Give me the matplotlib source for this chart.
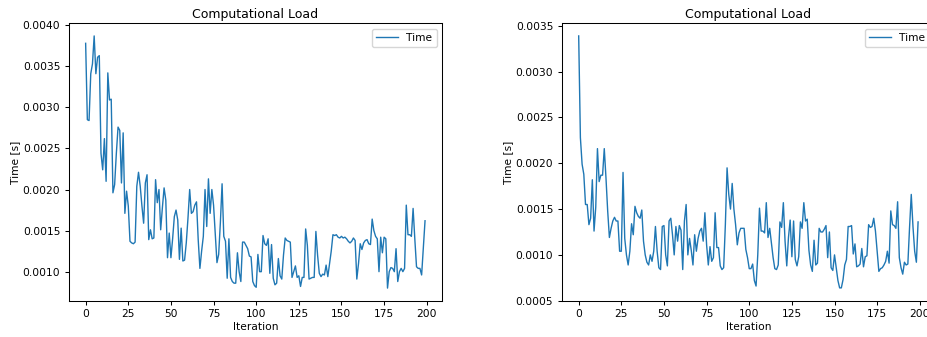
import numpy as np
import matplotlib
matplotlib.use("Agg")
import matplotlib.pyplot as plt

# Per-iteration solve time [s], first run
time_run_a = [
    0.00378, 0.00285, 0.00284, 0.00341, 0.00353, 0.00387, 0.00341, 0.00361, 0.00363, 0.00244,
    0.00224, 0.00262, 0.00210, 0.00342, 0.00309, 0.00310, 0.00196, 0.00206, 0.00244, 0.00276,
    0.00272, 0.00208, 0.00269, 0.00171, 0.00198, 0.00180, 0.00137, 0.00135, 0.00134, 0.00136,
    0.00204, 0.00221, 0.00204, 0.00180, 0.00159, 0.00208, 0.00218, 0.00139, 0.00151, 0.00140,
    0.00141, 0.00212, 0.00184, 0.00200, 0.00151, 0.00178, 0.00202, 0.00187, 0.00117, 0.00147,
    0.00117, 0.00140, 0.00167, 0.00175, 0.00163, 0.00115, 0.00153, 0.00113, 0.00114, 0.00135,
    0.00165, 0.00200, 0.00171, 0.00173, 0.00181, 0.00185, 0.00139, 0.00104, 0.00125, 0.00143,
    0.00200, 0.00155, 0.00213, 0.00171, 0.00200, 0.00181, 0.00147, 0.00111, 0.00121, 0.00160,
    0.00207, 0.00143, 0.00137, 0.00092, 0.00140, 0.00093, 0.00088, 0.00086, 0.00086, 0.00123,
    0.00100, 0.00088, 0.00136, 0.00136, 0.00132, 0.00128, 0.00119, 0.00118, 0.00088, 0.00083,
    0.00081, 0.00121, 0.00100, 0.00100, 0.00144, 0.00134, 0.00132, 0.00140, 0.00098, 0.00133,
    0.00092, 0.00084, 0.00086, 0.00116, 0.00095, 0.00091, 0.00120, 0.00141, 0.00138, 0.00137,
    0.00136, 0.00093, 0.00100, 0.00107, 0.00093, 0.00095, 0.00082, 0.00093, 0.00093, 0.00152,
    0.00132, 0.00091, 0.00092, 0.00093, 0.00093, 0.00149, 0.00120, 0.00098, 0.00094, 0.00097,
    0.00096, 0.00108, 0.00094, 0.00110, 0.00125, 0.00145, 0.00144, 0.00145, 0.00142, 0.00141,
    0.00143, 0.00141, 0.00142, 0.00140, 0.00137, 0.00135, 0.00137, 0.00141, 0.00138, 0.00091,
    0.00110, 0.00134, 0.00127, 0.00135, 0.00138, 0.00139, 0.00134, 0.00133, 0.00164, 0.00150,
    0.00143, 0.00140, 0.00100, 0.00142, 0.00123, 0.00142, 0.00140, 0.00080, 0.00100, 0.00105,
    0.00104, 0.00100, 0.00128, 0.00088, 0.00100, 0.00104, 0.00100, 0.00104, 0.00181, 0.00145,
    0.00145, 0.00143, 0.00177, 0.00140, 0.00106, 0.00104, 0.00104, 0.00096, 0.00130, 0.00162,
]

# Per-iteration solve time [s], second run
time_run_b = [
    0.00339, 0.00228, 0.00199, 0.00188, 0.00155, 0.00155, 0.00133, 0.00140, 0.00182, 0.00126,
    0.00152, 0.00216, 0.00180, 0.00187, 0.00187, 0.00216, 0.00184, 0.00148, 0.00119, 0.00129,
    0.00137, 0.00141, 0.00137, 0.00137, 0.00104, 0.00104, 0.00190, 0.00118, 0.00100, 0.00089,
    0.00104, 0.00134, 0.00122, 0.00153, 0.00146, 0.00142, 0.00140, 0.00149, 0.00115, 0.00100,
    0.00092, 0.00089, 0.00100, 0.00093, 0.00104, 0.00131, 0.00104, 0.00086, 0.00084, 0.00131,
    0.00132, 0.00100, 0.00088, 0.00137, 0.00140, 0.00122, 0.00100, 0.00131, 0.00115, 0.00132,
    0.00127, 0.00084, 0.00137, 0.00155, 0.00100, 0.00118, 0.00105, 0.00089, 0.00122, 0.00104,
    0.00118, 0.00126, 0.00129, 0.00115, 0.00146, 0.00111, 0.00089, 0.00109, 0.00093, 0.00097,
    0.00146, 0.00108, 0.00108, 0.00088, 0.00084, 0.00086, 0.00133, 0.00195, 0.00166, 0.00150,
    0.00178, 0.00150, 0.00133, 0.00111, 0.00124, 0.00129, 0.00129, 0.00129, 0.00106, 0.00097,
    0.00085, 0.00085, 0.00090, 0.00072, 0.00066, 0.00100, 0.00151, 0.00126, 0.00126, 0.00124,
    0.00157, 0.00119, 0.00129, 0.00113, 0.00097, 0.00085, 0.00084, 0.00089, 0.00136, 0.00130,
    0.00157, 0.00115, 0.00088, 0.00119, 0.00138, 0.00098, 0.00137, 0.00095, 0.00088, 0.00098,
    0.00136, 0.00129, 0.00157, 0.00137, 0.00139, 0.00105, 0.00089, 0.00082, 0.00116, 0.00089,
    0.00091, 0.00129, 0.00125, 0.00125, 0.00128, 0.00132, 0.00097, 0.00125, 0.00086, 0.00083,
    0.00100, 0.00086, 0.00072, 0.00064, 0.00064, 0.00073, 0.00089, 0.00095, 0.00131, 0.00131,
    0.00132, 0.00101, 0.00112, 0.00087, 0.00088, 0.00090, 0.00107, 0.00087, 0.00098, 0.00099,
    0.00133, 0.00130, 0.00131, 0.00140, 0.00126, 0.00104, 0.00082, 0.00085, 0.00086, 0.00089,
    0.00093, 0.00104, 0.00091, 0.00148, 0.00133, 0.00132, 0.00129, 0.00158, 0.00097, 0.00086,
    0.00079, 0.00092, 0.00089, 0.00090, 0.00130, 0.00166, 0.00131, 0.00104, 0.00092, 0.00136,
]

title_text = "Computational Load"
x_label = "Iteration"
y_label = "Time [s]"
series_label = "Time"

plt.rcParams["font.family"] = "DejaVu Sans"
plt.rcParams["font.size"] = 7.7
plt.rcParams["axes.linewidth"] = 0.75
plt.rcParams["xtick.major.width"] = 0.75
plt.rcParams["ytick.major.width"] = 0.75
plt.rcParams["xtick.major.size"] = 2.6
plt.rcParams["ytick.major.size"] = 2.6

fig = plt.figure(figsize=(9.28, 3.37), dpi=100)
ax_a = fig.add_axes([0.0740, 0.1077, 0.4023, 0.8231])
ax_b = fig.add_axes([0.6053, 0.1077, 0.4023, 0.8231])

for ax, series in ((ax_a, time_run_a), (ax_b, time_run_b)):
    iterations = np.arange(len(series))
    ax.plot(iterations, series, color="#1f77b4", linewidth=1.0, label=series_label)
    ax.set_title(title_text, fontsize=9.0, pad=4)
    ax.set_xlabel(x_label, labelpad=2)
    ax.set_ylabel(y_label, labelpad=1.5)
    ax.set_xticks([0, 25, 50, 75, 100, 125, 150, 175, 200])
    ax.legend(loc="upper right", fontsize=7.7, handlelength=2.0)

ax_a.set_yticks([0.0010, 0.0015, 0.0020, 0.0025, 0.0030, 0.0035, 0.0040])
ax_a.set_yticklabels([f"{v:.4f}" for v in ax_a.get_yticks()])
ax_b.set_yticks([0.0005, 0.0010, 0.0015, 0.0020, 0.0025, 0.0030, 0.0035])
ax_b.set_yticklabels([f"{v:.4f}" for v in ax_b.get_yticks()])

fig.savefig("out.png", dpi=100)
